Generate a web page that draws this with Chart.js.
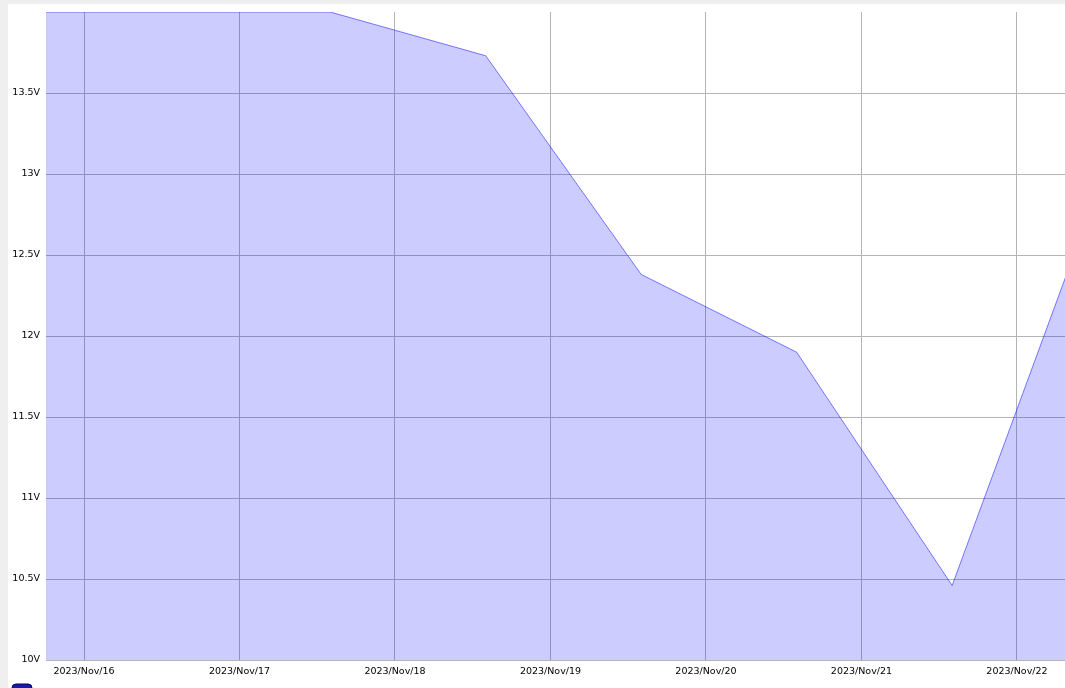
<!DOCTYPE html>
<html>
<head>
<meta charset="utf-8">
<script src="https://cdn.jsdelivr.net/npm/chart.js@4.4.0/dist/chart.umd.min.js"></script>
<style>
  html, body { margin: 0; padding: 0; overflow: hidden; background: #efefef; }
  #wrap { position: absolute; left: 8px; top: 4px; width: 1057px; height: 710px; background: #fff; }
</style>
</head>
<body>
<div id="wrap"><canvas id="voltChart"></canvas></div>
<script>
// readings (UTC) and battery voltage
const sampleTimes = ['2023-11-15T14:00:00Z', '2023-11-16T14:00:00Z', '2023-11-17T14:00:00Z',
    '2023-11-18T14:00:00Z', '2023-11-19T14:00:00Z', '2023-11-20T14:00:00Z',
    '2023-11-21T14:00:00Z', '2023-11-22T14:00:00Z'];
const voltages = [14.0, 14.0, 14.0, 13.73, 12.38, 11.9, 10.46, 13.07];
const seriesName = 'Voltage Node TRANSIT';

// visible window and day ticks
const viewStart = '2023-11-15T18:08:00Z';
const viewEnd = '2023-11-22T07:25:00Z';
const dayTicks = ['2023-11-16', '2023-11-17', '2023-11-18', '2023-11-19', '2023-11-20', '2023-11-21', '2023-11-22'];
const voltTicks = [10, 10.5, 11, 11.5, 12, 12.5, 13, 13.5];

const months = ['Jan', 'Feb', 'Mar', 'Apr', 'May', 'Jun', 'Jul', 'Aug', 'Sep', 'Oct', 'Nov', 'Dec'];
function fmtDay(ms) {
    let d = new Date(ms);
    return d.getUTCFullYear() + '/' + months[d.getUTCMonth()] + '/' + d.getUTCDate();
}

let points = sampleTimes.map((t, i) => ({ x: Date.parse(t), y: voltages[i] }));
let tickFont = { family: 'DejaVu Sans', size: 9.5 };

let ctx = document.getElementById('voltChart').getContext('2d');
let chart = new Chart(ctx, {
    type: 'line',
    data: {
        datasets: [{
            label: seriesName,
            data: points,
            borderColor: 'rgba(0,0,255,0.5)',
            backgroundColor: 'rgba(0,0,255,0.2)',
            borderWidth: 1,
            fill: 'start',
            pointRadius: 0,
            tension: 0
        }]
    },
    options: {
        responsive: true,
        maintainAspectRatio: false,
        animation: false,
        layout: { padding: { top: 8, left: 2, right: 0, bottom: 0 } },
        scales: {
            x: {
                type: 'linear',
                min: Date.parse(viewStart),
                max: Date.parse(viewEnd),
                afterBuildTicks: s => { s.ticks = dayTicks.map(d => ({ value: Date.parse(d + 'T00:00:00Z') })); },
                afterFit: s => { s.height = 22; },
                ticks: { font: tickFont, color: '#000', padding: 6, maxRotation: 0, callback: v => fmtDay(v) },
                grid: { color: '#b4b4b4', drawTicks: false },
                border: { display: true, color: '#b4b4b4' }
            },
            y: {
                min: 10,
                max: 14,
                afterBuildTicks: s => { s.ticks = voltTicks.map(v => ({ value: v })); },
                afterFit: s => { s.width = 36; s.paddingTop = 0; s.paddingBottom = 0; },
                ticks: { font: tickFont, color: '#000', padding: 6, callback: v => v + 'V' },
                grid: { color: '#b4b4b4', drawTicks: false },
                border: { display: false }
            }
        },
        plugins: {
            legend: {
                display: true,
                position: 'bottom',
                align: 'start',
                labels: {
                    font: { family: 'DejaVu Sans', size: 10 },
                    color: '#111',
                    boxWidth: 20,
                    boxHeight: 20,
                    padding: 2,
                    useBorderRadius: true,
                    borderRadius: 4,
                    generateLabels: c => [{
                        text: seriesName,
                        fillStyle: '#1a1aa8',
                        strokeStyle: '#000070',
                        lineWidth: 1,
                        datasetIndex: 0,
                        borderRadius: 4
                    }]
                }
            },
            tooltip: { enabled: false }
        }
    }
});
</script>
</body>
</html>
